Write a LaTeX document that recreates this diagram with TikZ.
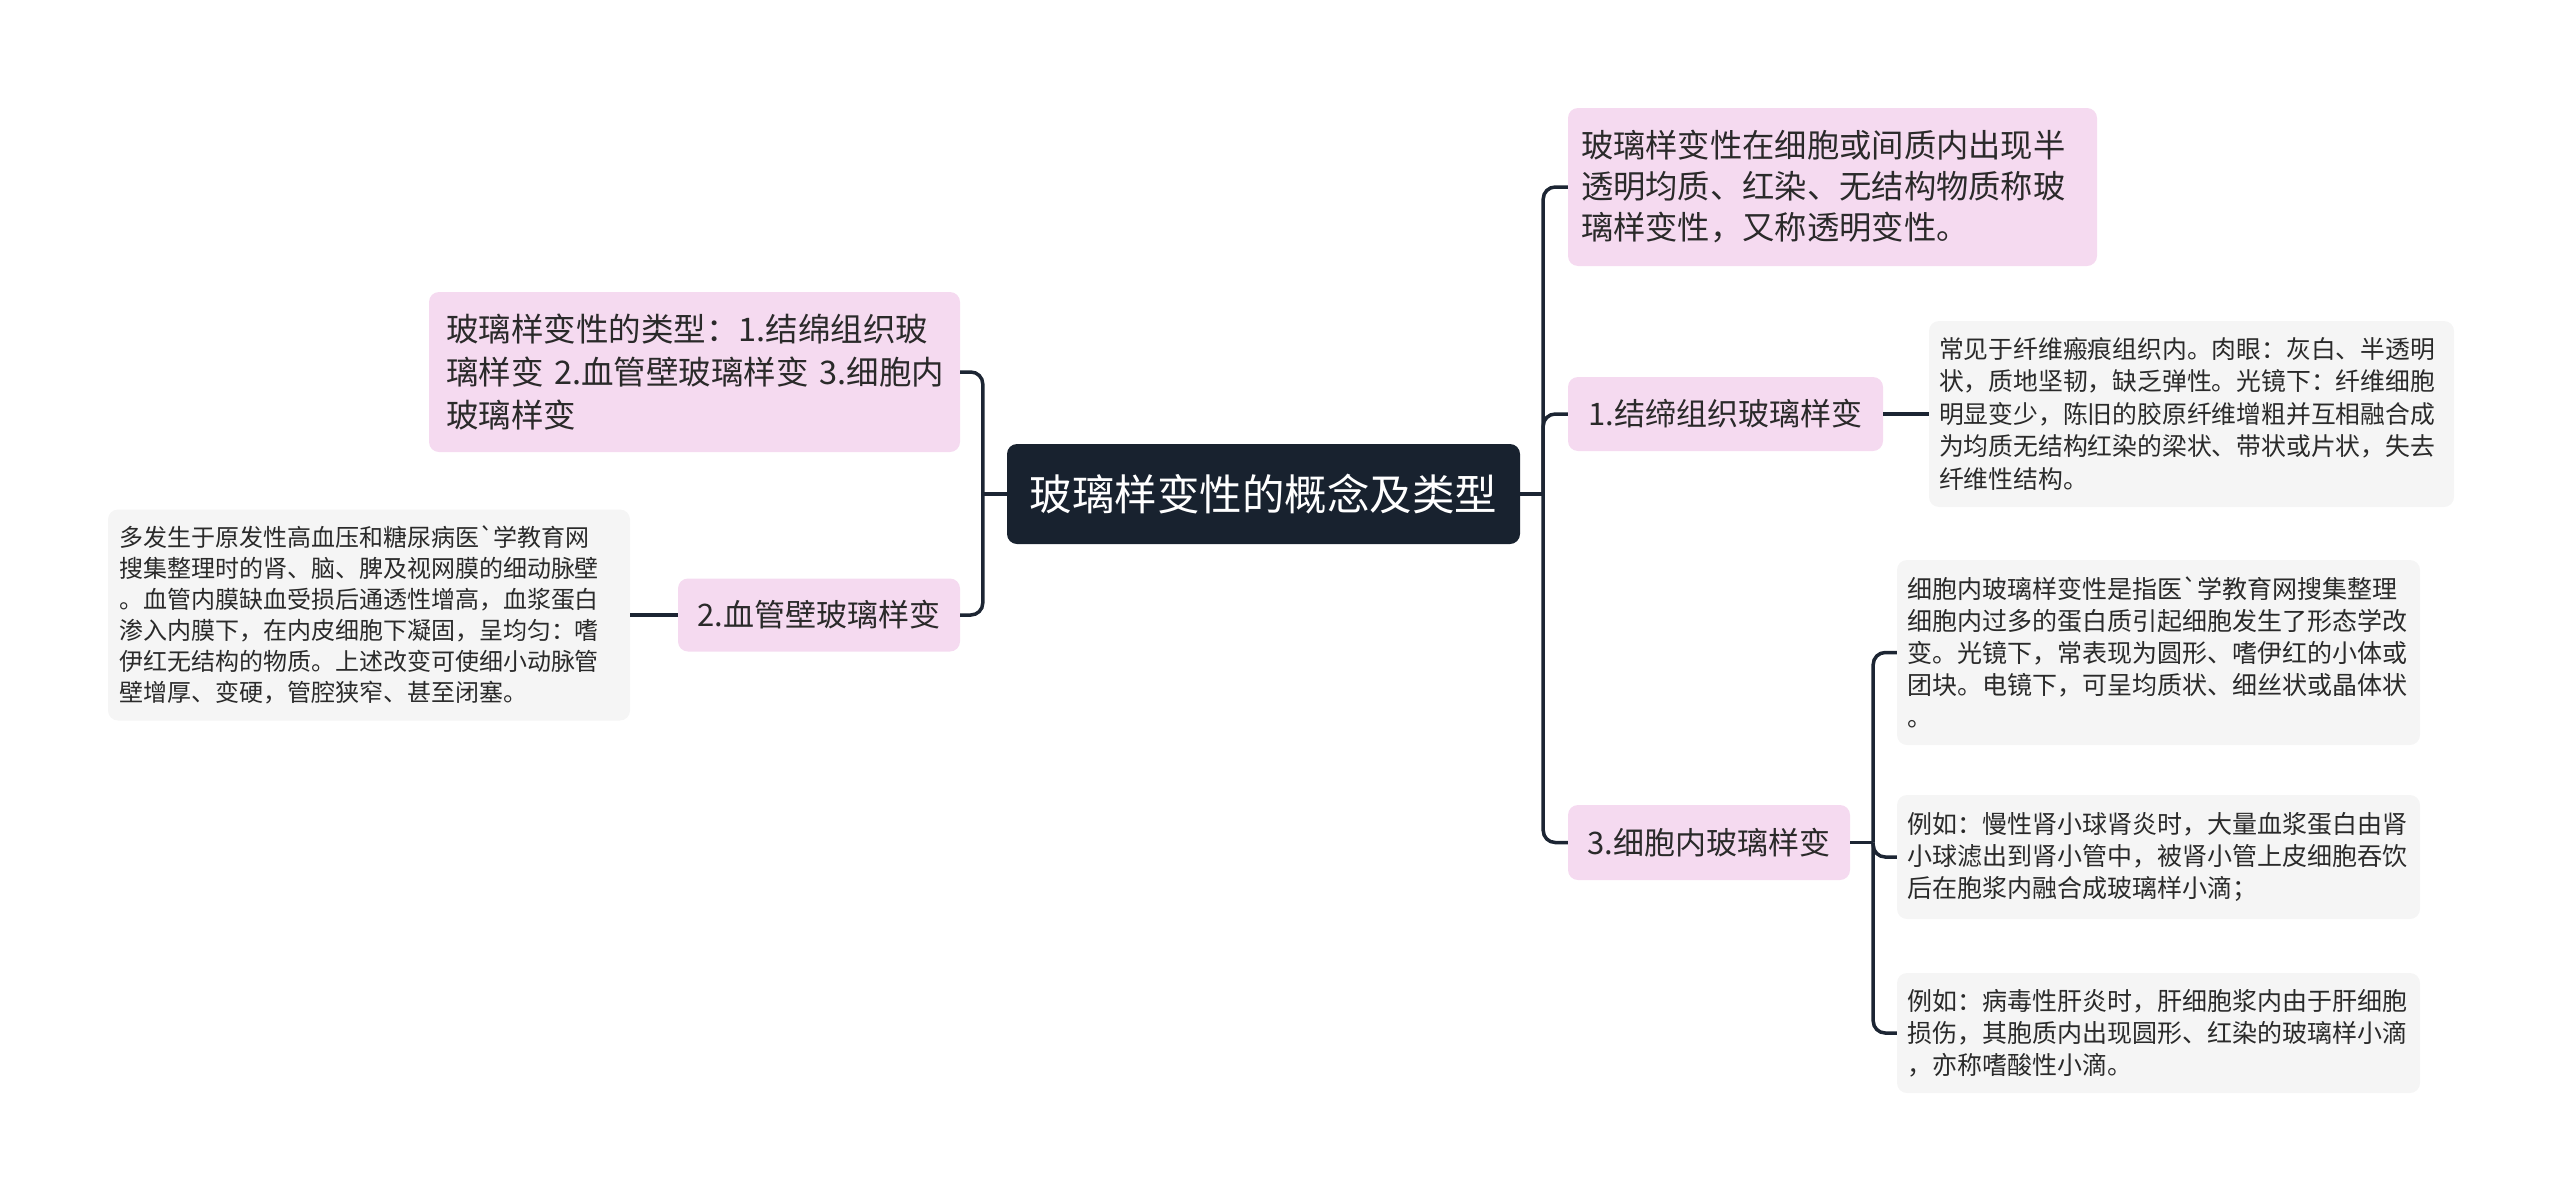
\documentclass[tikz,border=0pt]{standalone}
\usepackage{fontspec}
\setmainfont{Noto Sans CJK SC}
\usepackage{xcolor}
\usepackage{tikz}
\usetikzlibrary{calc}

\definecolor{rootbg}{HTML}{18222F}
\definecolor{pinkbg}{HTML}{F5DAF0}
\definecolor{leafbg}{HTML}{F5F5F5}
\definecolor{linecol}{HTML}{1C2533}
\definecolor{textcol}{HTML}{2A2A2A}

\begin{document}
\begin{tikzpicture}[x=1pt, y=-1pt,
  box/.style={rounded corners=10pt, inner sep=0pt, anchor=center},
  topic/.style={box, fill=rootbg, text=white, align=center, font=\fontsize{42.5}{50}\selectfont},
  sub/.style={box, fill=pinkbg, text=textcol, align=left, font=\fontsize{31}{43}\selectfont},
  leaf/.style={box, fill=leafbg, text=textcol, align=left, font=\fontsize{25}{32}\selectfont},
  link/.style={draw=linecol, line width=3.5pt, rounded corners=12pt}]

  \useasboundingbox (0,0) rectangle (2560,1202);

  % Central topic
  \node[topic, minimum width=513, minimum height=100] (root) at (1263.5, 494) {玻璃样变性的概念及类型};

  % Left branch
  \node[sub, minimum width=531, minimum height=160, text width=497, font=\fontsize{32.5}{43}\selectfont] (types) at (694.5, 372)
    {玻璃样变性的类型：1.结绵组织玻\\璃样变~2.血管壁玻璃样变~3.细胞内\\玻璃样变};
  \node[sub, minimum width=282, minimum height=73, align=center] (vessel) at (819, 615) {2.血管壁玻璃样变};
  \node[leaf, minimum width=522, minimum height=211, text width=500, font=\fontsize{24}{31}\selectfont] (vesselnote) at (369, 615)
    {多发生于原发性高血压和糖尿病医\textasciigrave 学教育网\\
     搜集整理时的肾、脑、脾及视网膜的细动脉壁\\
     。血管内膜缺血受损后通透性增高，血浆蛋白\\
     渗入内膜下，在内皮细胞下凝固，呈均匀：嗜\\
     伊红无结构的物质。上述改变可使细小动脉管\\
     壁增厚、变硬，管腔狭窄、甚至闭塞。};

  % Right branch
  \node[sub, minimum width=529, minimum height=158, text width=503, font=\fontsize{32.3}{41}\selectfont] (concept) at (1832.5, 187)
    {玻璃样变性在细胞或间质内出现半\\透明均质、红染、无结构物质称玻\\璃样变性，又称透明变性。};
  \node[sub, minimum width=315, minimum height=74, align=center] (tissue) at (1725.5, 414) {1.结缔组织玻璃样变};
  \node[leaf, minimum width=525, minimum height=186, text width=505, font=\fontsize{24.8}{32.5}\selectfont] (tissuenote) at (2191.5, 414)
    {常见于纤维瘢痕组织内。肉眼：灰白、半透明\\
     状，质地坚韧，缺乏弹性。光镜下：纤维细胞\\
     明显变少，陈旧的胶原纤维增粗并互相融合成\\
     为均质无结构红染的梁状、带状或片状，失去\\
     纤维性结构。};
  \node[sub, minimum width=282, minimum height=75, align=center] (cell) at (1709, 842.5) {3.细胞内玻璃样变};

  % Notes on the intracellular type
  \node[leaf, minimum width=523, minimum height=185, text width=503] (cellnote) at (2158.5, 652.5)
    {细胞内玻璃样变性是指医\textasciigrave 学教育网搜集整理\\
     细胞内过多的蛋白质引起细胞发生了形态学改\\
     变。光镜下，常表现为圆形、嗜伊红的小体或\\
     团块。电镜下，可呈均质状、细丝状或晶体状\\
     。};
  \node[leaf, minimum width=523, minimum height=124, text width=503] (kidney) at (2158.5, 857)
    {例如：慢性肾小球肾炎时，大量血浆蛋白由肾\\
     小球滤出到肾小管中，被肾小管上皮细胞吞饮\\
     后在胞浆内融合成玻璃样小滴；};
  \node[leaf, minimum width=523, minimum height=120, text width=503] (liver) at (2158.5, 1033)
    {例如：病毒性肝炎时，肝细胞浆内由于肝细胞\\
     损伤，其胞质内出现圆形、红染的玻璃样小滴\\
     ，亦称嗜酸性小滴。};

  % Forks
  \coordinate (lfork) at ($(root.west)+(-24,0)$);
  \coordinate (rfork) at ($(root.east)+(23,0)$);
  \coordinate (cfork) at ($(cell.east)+(23,0)$);

  % Connectors
  \draw[link] (root.west) -- (lfork);
  \draw[link] (lfork) |- (types.east);
  \draw[link] (lfork) |- (vessel.east);
  \draw[link] (vessel.west) -- (vesselnote.east);

  \draw[link] (root.east) -- (rfork);
  \draw[link] (rfork) |- (concept.west);
  \draw[link] (rfork) |- (tissue.west);
  \draw[link] (rfork) |- (cell.west);
  \draw[link] (tissue.east) -- (tissuenote.west);

  \draw[link] (cell.east) -- (cfork);
  \draw[link] (cfork) |- (cellnote.west);
  \draw[link] (cfork) |- (kidney.west);
  \draw[link] (cfork) |- (liver.west);

\end{tikzpicture}
\end{document}
